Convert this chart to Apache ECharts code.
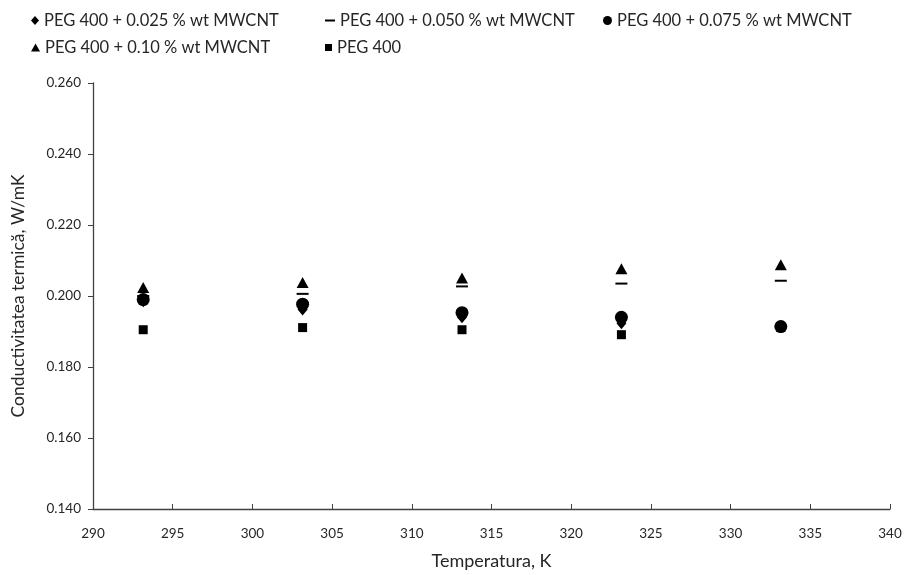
<!DOCTYPE html>
<html><head><meta charset="utf-8">
<script src="https://cdn.jsdelivr.net/npm/echarts@6/dist/echarts.min.js"></script>
<style>html,body{margin:0;padding:0;background:#fff}#c{width:907px;height:575px}</style>
</head><body><div id="c"></div>
<script>
const temps = [293.15, 303.15, 313.15, 323.15, 333.15];
const seriesNames = ['PEG 400 + 0.025 % wt MWCNT','PEG 400 + 0.050 % wt MWCNT','PEG 400 + 0.075 % wt MWCNT','PEG 400 + 0.10 % wt MWCNT','PEG 400'];
const peg025 = [0.1985, 0.1962, 0.1940, 0.1923, 0.1912];
const peg050 = [0.2000, 0.2006, 0.2027, 0.2035, 0.2043];
const peg075 = [0.1990, 0.1977, 0.1953, 0.1940, 0.1914];
const peg010 = [0.2024, 0.2038, 0.2051, 0.2077, 0.2088];
const peg400 = [0.1905, 0.1911, 0.1905, 0.1891, 0.1912];
const xTicks = [290,295,300,305,310,315,320,325,330,335,340];
const yTicks = [0.140,0.160,0.180,0.200,0.220,0.240,0.260];

const values = [peg025, peg050, peg075, peg010, peg400];
const symbols = ['diamond', 'rect', 'circle', 'triangle', 'rect'];
const sizes = [[10,12], [12,2], [13,13], [12,11], [9,9]];
const legendSizes = [[8,9],[10,2],[9,9],[9,8],[7,7]];
const legendPos = [[26,7],[320,7],[598,7],[26,34],[320,34]];
const font = "Lato, 'Open Sans', 'Liberation Sans', sans-serif";
const tc = '#262626';

const chart = echarts.init(document.getElementById('c'));
chart.setOption({
  animation: false,
  textStyle: {fontFamily: font},
  legend: seriesNames.map((n, i) => ({
    data: [{name: n, icon: symbols[i]}],
    left: legendPos[i][0], top: legendPos[i][1],
    itemWidth: legendSizes[i][0], itemHeight: legendSizes[i][1], itemGap: 5,
    textStyle: {fontSize: 16.5, color: tc, fontFamily: font},
    selectedMode: false
  })),
  grid: {left: 93, right: 17, top: 83, bottom: 51},
  xAxis: {
    type: 'value', min: 290, max: 340, interval: 5,
    name: 'Temperatura, K', nameLocation: 'middle', nameGap: 43,
    nameTextStyle: {fontSize: 18, color: tc, fontFamily: font},
    axisLine: {lineStyle: {color: '#404040', width: 1.3}},
    axisTick: {inside: true, length: 5, lineStyle: {color: '#404040'}},
    axisLabel: {fontSize: 13.5, color: tc, margin: 18, formatter: v => xTicks.includes(v) ? String(v) : ''},
    splitLine: {show: false}
  },
  yAxis: {
    type: 'value', min: 0.14, max: 0.26, interval: 0.02,
    name: 'Conductivitatea termică, W/mK', nameLocation: 'middle', nameGap: 66,
    nameTextStyle: {fontSize: 17.5, color: tc, fontFamily: font},
    axisLine: {show: true, lineStyle: {color: '#404040', width: 1.3}},
    axisTick: {show: true, inside: false, length: 5, lineStyle: {color: '#404040'}},
    axisLabel: {fontSize: 13.5, color: tc, margin: 12, formatter: v => {
      const t = yTicks.find(y => Math.abs(y - v) < 1e-9); return t !== undefined ? t.toFixed(3) : '';
    }},
    splitLine: {show: false}
  },
  series: seriesNames.map((n, i) => ({
    name: n, type: 'scatter', symbol: symbols[i], symbolSize: sizes[i],
    itemStyle: {color: '#000', opacity: 1},
    data: temps.map((t, j) => [t, values[i][j]])
  }))
});
</script></body></html>
